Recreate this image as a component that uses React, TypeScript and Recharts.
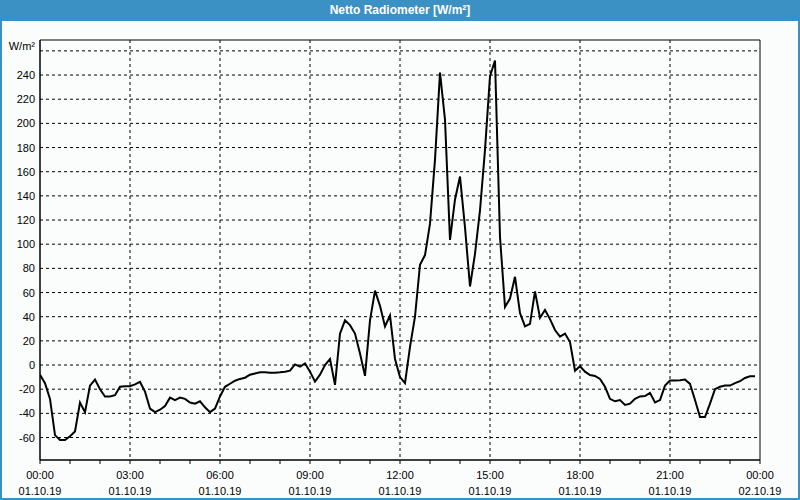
import { LineChart, Line, XAxis, YAxis, CartesianGrid, ReferenceArea } from "recharts";

// 10-minute readings, 00:00 .. 23:50 on 01.10.19
const values = [
  -8, -15, -28, -58, -62, -62,
  -59, -55, -31, -39, -17, -12,
  -20, -26, -26, -25, -18, -17.5,
  -17.5, -16, -14, -22, -36, -39,
  -37, -34, -27, -29, -27, -28,
  -31, -32, -30, -35, -39, -36,
  -26, -18, -15.5, -13, -11.5, -10.5,
  -8, -7, -6, -6, -6.3, -6.3,
  -6, -5.5, -4.7, 0.5, -1.4, 1.4,
  -5.5, -13.7, -8, 0, 5, -16.4,
  26, 37, 33, 26, 9.6, -9,
  37, 61.6, 49, 32, 41, 5,
  -10, -15, 15, 40, 83, 91,
  117, 170, 242, 203, 103.5, 137,
  156, 114, 65, 92, 128, 178,
  239, 252, 106, 48, 55, 73,
  43, 32, 34, 61, 39, 45.5,
  38, 29, 23.5, 26, 19, -4.7,
  -1, -5.5, -8.3, -9, -11.5, -18,
  -28, -30, -29, -33, -32, -28,
  -26, -25.7, -23, -31, -29, -17,
  -12.8, -12.8, -12.5, -12, -15.6, -29,
  -43, -43, -32, -20, -18, -17,
  -17, -15, -13.4, -10.7, -9.3, -9.3,
];

const majorTicks = [0, 180, 360, 540, 720, 900, 1080, 1260, 1440];
const timeLabels = ["00:00", "03:00", "06:00", "09:00", "12:00", "15:00", "18:00", "21:00", "00:00"];
const dateLabels = ["01.10.19", "01.10.19", "01.10.19", "01.10.19", "01.10.19", "01.10.19", "01.10.19", "01.10.19", "02.10.19"];
const yTicks = [-60, -40, -20, 0, 20, 40, 60, 80, 100, 120, 140, 160, 180, 200, 220, 240, 260];
const unitLabel = "W/m²";
const title = "Netto Radiometer [W/m²]";

const Y_MIN = -78.6;
const Y_MAX = 269;
const FONT = "Tahoma, 'Liberation Sans', Arial, sans-serif";
const BLUE = "#3b90c4";

const data = values.map((v, i) => ({ t: i * 10, v }));
const hourTicks = Array.from({ length: 25 }, (_, i) => i * 60);

const XTick = ({ x, y, payload }: any) => {
  const idx = majorTicks.indexOf(payload.value);
  if (idx < 0) return <g />;
  return (
    <g>
      <text x={x} y={y + 15} textAnchor="middle" fontSize={11} fill="#000" fontFamily={FONT}>
        {timeLabels[idx]}
      </text>
      <text x={x} y={y + 31} textAnchor="middle" fontSize={11} fill="#000" fontFamily={FONT}>
        {dateLabels[idx]}
      </text>
    </g>
  );
};

const YTick = ({ x, y, payload }: any) => {
  const isUnit = payload.value === 260;
  return (
    <text
      x={x}
      y={isUnit ? y - 1 : y + 4}
      textAnchor="end"
      fontSize={11}
      fill="#000"
      fontFamily={FONT}
    >
      {isUnit ? unitLabel : payload.value}
    </text>
  );
};

export default function App() {
  return (
    <div style={{ position: "absolute", left: 0, top: 0, width: 800, height: 500, background: "#fbfdfd" }}>
      <LineChart
        width={800}
        height={500}
        data={data}
        margin={{ top: 40, right: 40, bottom: 0, left: 0 }}
        style={{ position: "absolute", left: 0, top: 0 }}
      >
        <CartesianGrid
          stroke="#000"
          strokeDasharray="3 3"
          verticalValues={[180, 360, 540, 720, 900, 1080, 1260]}
          horizontalValues={yTicks}
        />
        <XAxis
          dataKey="t"
          type="number"
          domain={[0, 1440]}
          ticks={hourTicks}
          interval={0}
          tick={<XTick />}
          tickSize={4}
          tickMargin={0}
          tickLine={{ stroke: "#000" }}
          axisLine={{ stroke: "#000" }}
          height={40}
          allowDataOverflow
        />
        <YAxis
          type="number"
          domain={[Y_MIN, Y_MAX]}
          ticks={yTicks}
          interval={0}
          tick={<YTick />}
          tickLine={false}
          tickSize={0}
          tickMargin={5}
          axisLine={{ stroke: "#000" }}
          width={40}
          allowDataOverflow
        />
        <ReferenceArea
          x1={0}
          x2={1440}
          y1={Y_MIN}
          y2={Y_MAX}
          fill="none"
          stroke="#000"
          strokeWidth={1}
          ifOverflow="visible"
        />
        <Line
          dataKey="v"
          type="linear"
          stroke="#000"
          strokeWidth={2}
          dot={false}
          isAnimationActive={false}
        />
      </LineChart>
      <div
        style={{
          position: "absolute",
          left: 0,
          top: 0,
          width: 800,
          height: 21,
          background: BLUE,
          color: "#fff",
          fontFamily: FONT,
          fontWeight: "bold",
          fontSize: 12,
          lineHeight: "21px",
          textAlign: "center",
        }}
      >
        {title}
      </div>
      <div
        style={{
          position: "absolute",
          left: 0,
          top: 0,
          width: 800,
          height: 500,
          boxSizing: "border-box",
          border: `2px solid ${BLUE}`,
          borderTop: "none",
          pointerEvents: "none",
        }}
      />
    </div>
  );
}
